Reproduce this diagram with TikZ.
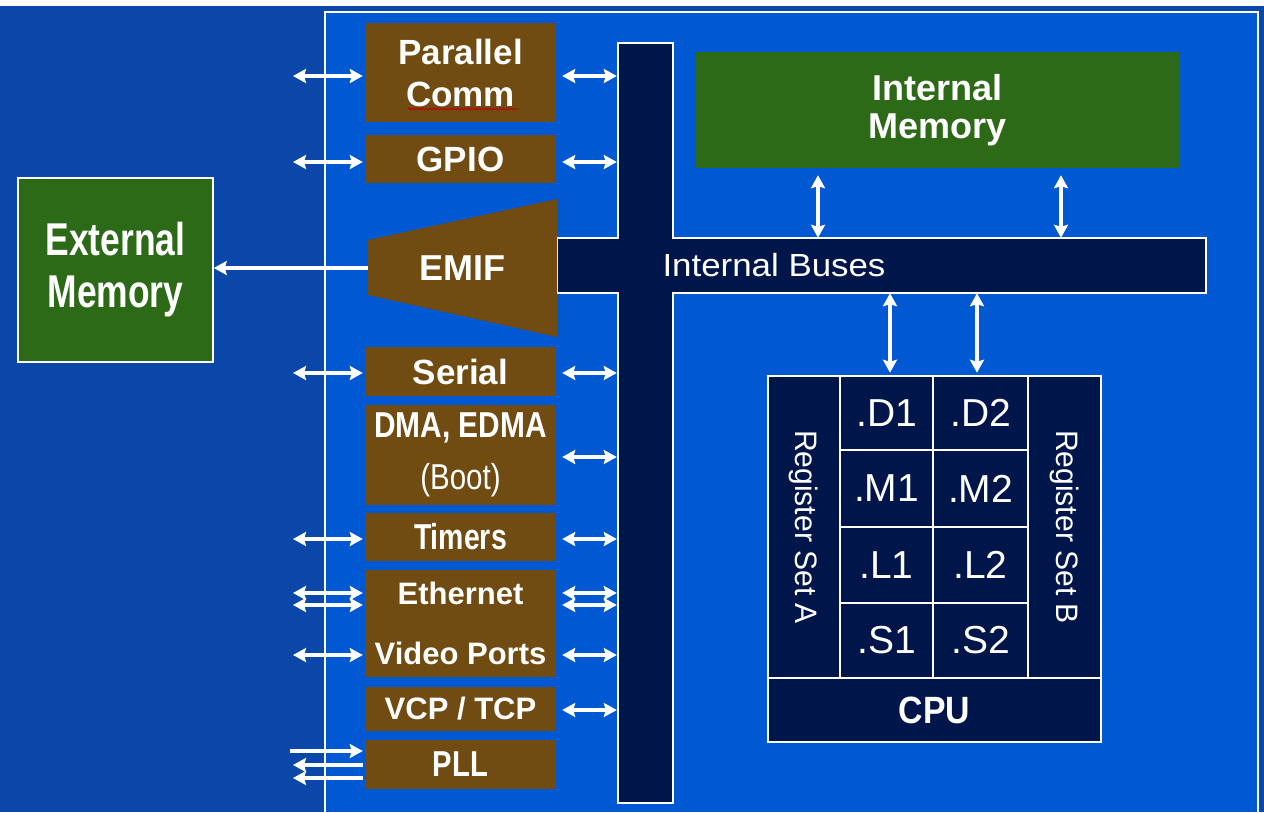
\documentclass[tikz,border=0pt]{standalone}
\usepackage{fontspec}
\setmainfont{Liberation Sans}
\usepackage{graphicx}
\usetikzlibrary{arrows.meta,decorations.pathmorphing}
\definecolor{outerblue}{HTML}{0A47A9}
\definecolor{innerblue}{HTML}{0059D3}
\definecolor{chipbrown}{HTML}{704B12}
\definecolor{memgreen}{HTML}{2D6A18}
\definecolor{navy}{HTML}{00164A}
\newcommand{\fs}[2]{\fontsize{#1}{#2}\selectfont}
\newcommand{\sx}[2]{\scalebox{#1}[1]{#2}}
\begin{document}
\begin{tikzpicture}[x=1pt,y=-1pt,
  blk/.style={fill=chipbrown,text=white,inner sep=0pt,align=center,minimum width=191pt},
  mem/.style={fill=memgreen,text=white,inner sep=0pt,align=center},
  unit/.style={fill=navy,draw=white,line width=2.5pt,text=white,inner sep=0pt,font=\fs{39}{39}},
  biarrow/.style={draw=white,line width=3.3pt,{Stealth[length=13pt,width=14pt,inset=2pt]}-{Stealth[length=13pt,width=14pt,inset=2pt]}},
  onearrow/.style={draw=white,line width=3.3pt,-{Stealth[length=13pt,width=14pt,inset=2pt]}},
]
\useasboundingbox (0,0) rectangle (1264,812);
% backgrounds
\fill[white] (0,0) rectangle (1264,812);
\fill[outerblue] (0,6) rectangle (1264,812);
\fill[innerblue] (325,12) rectangle (1258,812);
\draw[white,line width=2pt] (325,812) -- (325,12) -- (1258,12) -- (1258,812);

% buses
\filldraw[fill=navy,draw=white,line width=1.5pt] (618,43) -- (673,43) -- (673,238) -- (1206,238) -- (1206,293) -- (673,293) -- (673,803) -- (618,803) -- (618,293) -- (557,293) -- (557,238) -- (618,238) -- cycle;
\node[inner sep=0pt,minimum width=55pt,minimum height=760pt] (vbus) at (645.5,423) {};
\node[inner sep=0pt,minimum width=649pt,minimum height=55pt] (hbus) at (881.5,265.5) {};
\node[text=white,font=\fs{32}{32}] (ibtext) at (774,265) {\sx{1.09}{Internal Buses}};

% peripheral blocks
\node[blk,minimum height=99pt,font=\bfseries\fs{35}{42}] (pc) at (460.5,72.5) {Parallel\\Comm};
\draw[red!75!black,line width=0.8pt,decorate,decoration={snake,amplitude=1pt,segment length=3.5pt}] (408,109) -- (518,109);
\node[blk,minimum height=48pt,font=\bfseries\fs{35}{35}] (gpio) at (460.5,159) {GPIO};
\node[blk,minimum height=49pt,font=\bfseries\fs{35}{35}] (serial) at (460.5,371.5) {Serial};
\node[blk,minimum height=100pt,font=\fs{36}{52}] (dma) at (460.5,455) {\bfseries\sx{0.83}{DMA, EDMA}\\\sx{0.82}{(Boot)}};
\node[blk,minimum height=48pt,font=\bfseries\fs{36}{36}] (timers) at (460.5,537) {\sx{0.79}{Timers}};
\node[blk,minimum height=107pt,font=\bfseries\fs{31}{60}] (ev) at (460.5,623.5) {Ethernet\\Video Ports};
\node[blk,minimum height=44pt,font=\bfseries\fs{31}{31}] (vcp) at (460.5,709) {VCP / TCP};
\node[blk,minimum height=49pt,font=\bfseries\fs{36}{36}] (pll) at (460.5,764.5) {\sx{0.81}{PLL}};

% EMIF
\fill[chipbrown] (368,240) -- (557,199) -- (557,337) -- (368,295) -- cycle;
\node[text=white,font=\bfseries\fs{36}{36}] (emif) at (462,268) {EMIF};
\coordinate (emifL) at (368,268);

% memories
\node[mem,draw=white,line width=1.5pt,minimum width=195pt,minimum height=184pt,font=\bfseries\fs{46}{52}] (ext) at (115.5,270) {\sx{0.77}{External}\\\sx{0.77}{Memory}};
\node[mem,minimum width=485pt,minimum height=116pt,font=\bfseries\fs{36}{38}] (intmem) at (937.5,110) {Internal\\Memory};

% CPU
\node[unit,rotate=-90,minimum width=302pt,minimum height=72pt,font=\fs{31}{31}] (rega) at (804,527) {\sx{0.97}{Register Set A}};
\node[unit,rotate=-90,minimum width=302pt,minimum height=73pt,font=\fs{31}{31}] (regb) at (1064.5,527) {\sx{0.97}{Register Set B}};
\node[unit,minimum width=93pt,minimum height=74pt] (d1) at (886.5,413) {.D1};
\node[unit,minimum width=95pt,minimum height=74pt] (d2) at (980.5,413) {.D2};
\node[unit,minimum width=93pt,minimum height=77pt] (m1) at (886.5,488.5) {.M1};
\node[unit,minimum width=95pt,minimum height=77pt] (m2) at (980.5,488.5) {.M2};
\node[unit,minimum width=93pt,minimum height=76pt] (l1) at (886.5,565) {.L1};
\node[unit,minimum width=95pt,minimum height=76pt] (l2) at (980.5,565) {.L2};
\node[unit,minimum width=93pt,minimum height=75pt] (s1) at (886.5,640.5) {.S1};
\node[unit,minimum width=95pt,minimum height=75pt] (s2) at (980.5,640.5) {.S2};
\node[unit,minimum width=333pt,minimum height=64pt,font=\bfseries\fs{38}{38}] (cpu) at (934.5,710) {\sx{0.89}{CPU}};

% left side free ends
\coordinate (pcY) at (293,76);
\coordinate (gpY) at (293,162);
\coordinate (seY) at (293,373);
\coordinate (dmY) at (293,457);
\coordinate (tiY) at (293,539);
\coordinate (etY1) at (293,593);
\coordinate (etY2) at (293,605);
\coordinate (viY) at (293,655);
\coordinate (vcY) at (293,710);
\coordinate (plA) at (290,751);
\coordinate (plB) at (293,765);
\coordinate (plC) at (293,778);

% left arrows
\foreach \c/\n in {pcY/pc,gpY/gpio,seY/serial,tiY/timers,etY1/ev,etY2/ev,viY/ev}{
  \draw[biarrow,shorten >=2pt] (\c) -- (\c -| \n.west);
}
% right arrows
\foreach \c/\n in {pcY/pc,gpY/gpio,seY/serial,dmY/dma,tiY/timers,etY1/ev,etY2/ev,viY/ev,vcY/vcp}{
  \draw[biarrow,shorten <=6pt,shorten >=1pt] (\c -| \n.east) -- (\c -| vbus.west);
}
% PLL
\draw[onearrow,shorten >=2pt] (plA) -- (plA -| pll.west);
\draw[onearrow,shorten <=2pt] (plB -| pll.west) -- (plB);
\draw[onearrow,shorten <=2pt] (plC -| pll.west) -- (plC);

% EMIF to external memory
\draw[onearrow] (emifL) -- (emifL -| ext.east);

% memory and CPU links
\coordinate (ima) at (818,0);
\coordinate (imb) at (1061,0);
\coordinate (cpa) at (890,0);
\coordinate (cpb) at (977,0);
\draw[biarrow,shorten <=7pt] (ima |- intmem.south) -- (ima |- hbus.north);
\draw[biarrow,shorten <=7pt] (imb |- intmem.south) -- (imb |- hbus.north);
\draw[biarrow,shorten >=2pt] (cpa |- hbus.south) -- (cpa |- d1.north);
\draw[biarrow,shorten >=2pt] (cpb |- hbus.south) -- (cpb |- d2.north);
\end{tikzpicture}
\end{document}
